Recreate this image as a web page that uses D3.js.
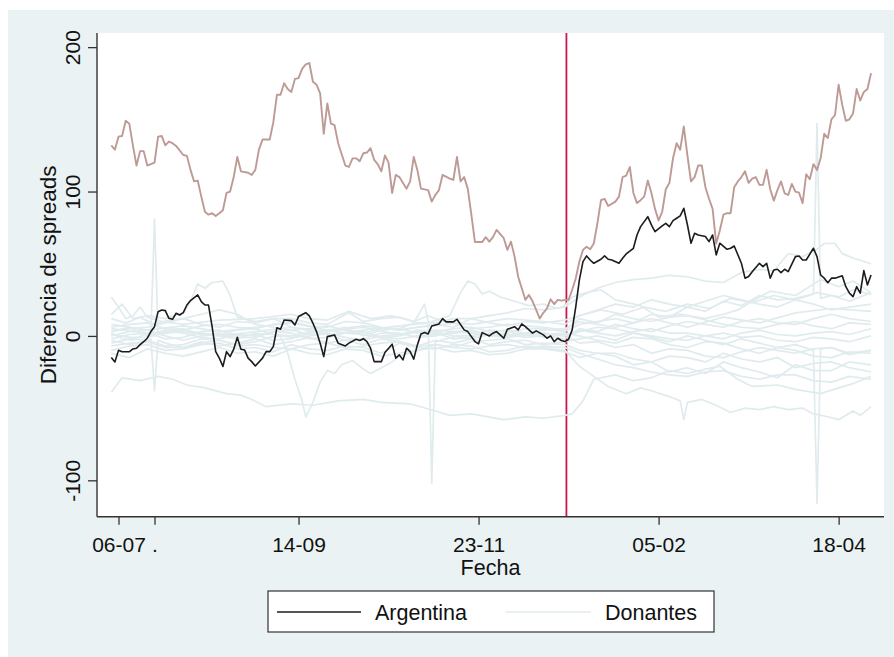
<!DOCTYPE html>
<html>
<head>
<meta charset="utf-8">
<script src="https://cdn.jsdelivr.net/npm/d3@7"></script>
<style>
  html, body { margin: 0; padding: 0; background: #ffffff; }
  svg { display: block; }
  text { font-family: "Liberation Sans", Arial, sans-serif; fill: #111; }
</style>
</head>
<body>
<svg id="chart" width="894" height="657"></svg>
<script>
// ---- Data: [day index, spread difference] --------------------------------

const tickDias = [2, 12, 52, 102, 152, 202];
const tickEtiquetas = ["06-07", ".", "14-09", "23-11", "05-02", "18-04"];
const yTicks = [-100, 0, 100, 200];
const fechaCorte = 126.4;

const argentina = [[0,-15],[1,-18],[2,-10],[3,-11],[5,-11],[6,-9],[7,-8.5],[8,-6],[9,-4],[10,-1.6],[11,3],[12,6.4],[13,16.8],[14,18],[15,17.5],[16,12.2],[17,11.5],[18,15.7],[19,14.5],[20,16.1],[21,21.4],[22,24.5],[24,28.4],[25,23.8],[26,21.4],[27,21.4],[28,6.4],[29,-10.9],[30,-15.4],[31,-21.2],[32,-10.9],[33,-14.3],[34,-9.2],[35,-0.9],[36,-9.2],[37,-9.7],[38,-15.4],[39,-17.8],[40,-20.8],[42,-15.4],[43,-10.9],[44,-10.9],[45,-7.4],[46,5.7],[47,4.6],[48,11],[50,10.6],[51,7.6],[52,13.4],[54,16.1],[55,13.9],[56,8.8],[57,3],[58,-5],[59,-14.3],[60,-0.5],[62,0.7],[63,-5],[65,-6.9],[66,-5],[68,-2.3],[69,-3.2],[70,-1.9],[71,-3.9],[72,-8.5],[73,-17.8],[75,-17.8],[76,-11.5],[78,-5.7],[79,-15.4],[80,-13.1],[81,-16.6],[82,-8.5],[83,-10.9],[84,-16.1],[85,-6.2],[86,1.4],[87,2.3],[88,1.4],[89,6.9],[91,8.3],[92,12],[93,9.7],[95,9.7],[96,11.5],[98,4.2],[99,3],[101,-3.9],[102,-5.5],[103,2.3],[105,0],[106,1.9],[107,3],[108,0.7],[109,-1.6],[110,4.6],[112,6.4],[113,4.2],[114,8.3],[115,6.4],[116,4.2],[117,1.9],[118,3.5],[120,0.7],[121,-1.6],[122,0],[123,-3.9],[124,-1.6],[125,-3.2],[126,-3.9],[127,-2.3],[128,4.2],[129,20.3],[130,38.8],[131,51.5],[132,55.4],[133,52.6],[134,50.3],[136,53.1],[137,55.4],[138,53.1],[139,52.6],[141,50.3],[142,53.8],[143,56.8],[145,60.7],[146,69.9],[147,75.7],[149,82.6],[150,76.9],[151,72.2],[153,76.2],[154,78],[155,75.7],[156,79.8],[157,81.5],[158,83.1],[159,88.4],[160,77],[161,64.2],[162,71.1],[163,69.9],[165,68.8],[166,65.3],[167,69.9],[168,56.1],[169,64.2],[171,60],[172,60.7],[173,62.3],[175,50.3],[176,40],[177,41.1],[178,44.5],[180,50.3],[181,48],[182,50.3],[183,40],[184,45.7],[185,46.2],[186,43.8],[187,46.2],[188,44.5],[190,54.9],[191,55.4],[192,52.6],[193,52.6],[195,60.7],[196,54.9],[197,42.2],[198,40],[199,36.9],[200,40],[201,40],[203,41.6],[204,34.1],[205,29.6],[206,27.2],[207,34.1],[208,29.6],[209,45.2],[210,35.3],[211,42.2]];

const serieRosa = [[0,132],[1,129],[2,138],[3,138.5],[4,149],[5,147],[6,132],[7,118],[8,128],[9,128],[10,118],[12,120],[13,138],[14,138.5],[15,132],[16,134.6],[17,133.5],[18,131.6],[20,125.3],[21,124.7],[22,115],[23,107],[24,107.6],[25,96.5],[26,86],[27,84],[28,85],[29,83],[30,85],[31,87],[32,99],[33,100],[34,110],[35,124],[36,114],[38,113],[39,111.5],[40,115],[41,129],[42,136],[44,136],[45,148],[46,167],[47,167],[48,175],[49,171],[50,169],[51,178],[52,178.5],[53,185],[54,188],[55,189],[56,176],[57,174],[58,168],[59,140],[60,161],[61,147],[62,146],[63,133.5],[65,118],[66,117],[67,123],[68,123],[69,121],[70,126.5],[71,127],[72,130],[73,122],[74,119],[75,114],[76,125],[77,120],[78,99],[79,111.5],[80,110],[82,102],[83,107],[84,124],[85,115],[86,102],[88,101],[89,93],[90,97.6],[91,101],[92,111.5],[94,109],[95,108],[96,124],[97,107],[98,110],[99,102],[100,84],[101,65],[103,65],[104,68.4],[105,65.3],[106,68.4],[107,73.4],[109,67.7],[110,59.6],[111,65.3],[112,55],[113,41],[114,33],[115,25],[116,28.4],[117,24],[118,18],[119,12],[120,16],[121,19],[122,25.4],[123,22],[124,25],[125,24.4],[126,25],[127,25],[128,32],[129,40],[130,51.5],[131,59.6],[132,61.8],[133,60],[134,64],[135,78],[136,94],[137,95],[138,90],[140,93],[141,96.5],[142,110],[143,111],[144,117],[145,99],[146,92],[147,94],[148,96.5],[149,107.6],[150,99],[151,88],[152,80],[153,86],[154,101.6],[155,106],[156,123],[157,133.5],[158,129],[159,145],[160,125],[161,107],[162,110],[163,118],[164,118],[165,103],[166,95],[167,88],[168,64],[169,73],[170,84],[171,85],[172,85],[173,103],[174,107],[175,110],[176,114],[177,106],[178,109],[179,110],[180,104.6],[181,104.6],[182,115],[183,101.6],[184,93.7],[185,101],[186,107],[187,98.8],[188,97.6],[189,105.3],[190,100],[191,99.2],[192,92],[193,112],[194,108.5],[195,119],[196,115],[197,123],[198,140],[199,137],[200,150],[201,153],[202,174],[203,160],[204,149],[205,150],[206,154],[207,171],[208,163],[209,169],[210,171],[211,182]];

// Donor series
const donante01 = [[0,8],[10,4],[20,7],[30,3],[40,6],[50,9],[60,4],[70,7],[80,4],[90,8],[95,6],[100,12],[105,14],[110,16],[115,19],[120,18],[126,20],[130,27],[135,33],[140,37],[145,39],[150,40],[155,42],[160,41],[165,38],[170,37],[175,44],[180,46],[184,45],[188,57],[192,55],[196,60],[198,64],[201,64],[203,57],[206,54],[211,50]];
const donante02 = [[0,15],[3,22],[6,12],[10,14],[15,12],[20,16],[22,24],[24,36],[26,33],[28,37],[31,38],[33,28],[35,13],[40,10],[45,12],[50,6],[60,3],[70,6],[80,1],[90,4],[100,2],[110,0],[120,4],[126,5],[130,10],[140,6],[150,12],[160,6],[170,13],[180,9],[190,16],[200,19],[211,17]];
const donante03 = [[0,27],[2,20],[4,12],[6,14],[8,20],[10,13],[14,10],[20,8],[30,11],[40,12],[50,15],[55,12],[60,11],[66,17],[72,12],[78,14],[84,10],[88,14],[92,10],[100,8],[110,12],[120,10],[126,8],[130,14],[136,18],[142,15],[148,20],[154,17],[160,22],[166,19],[172,26],[178,23],[184,28],[190,25],[196,30],[202,27],[206,32],[211,29]];
const donante04 = [[0,5],[10,2],[20,4],[30,0],[40,3],[50,6],[60,1],[70,4],[80,7],[88,9],[94,14],[97,30],[99,38],[101,36],[103,29],[105,31],[108,27],[112,24],[116,21],[120,22],[124,19],[126,21],[128,27],[132,30],[136,32],[140,25],[147,21],[152,13],[158,15],[165,12],[170,15],[174,18],[178,24],[183,31],[190,28],[197,39],[202,34],[206,38],[211,30]];
const donante05 = [[0,-39],[3,-29],[8,-31],[13,-28],[17,-30],[21,-34],[26,-36],[32,-40],[36,-41],[39,-44],[43,-49],[50,-47],[56,-48],[63,-45],[70,-44],[75,-46],[83,-47],[90,-52],[94,-55],[100,-54],[109,-58],[115,-56],[120,-57],[126,-55],[128,-54],[131,-45],[134,-30],[140,-27],[145,-31],[150,-29],[155,-24],[160,-26],[165,-23],[169,-21],[174,-30],[178,-35],[185,-34],[190,-37],[197,-40],[202,-36],[206,-33],[211,-28]];
const donante06 = [[0,-10],[5,-7],[10,-6],[15,-10],[20,-9],[25,-6],[30,-5],[35,-9],[40,-8],[45,-11],[50,-6],[55,-9],[60,-10],[65,-7],[70,-8],[75,-12],[80,-5],[85,-8],[90,-9],[95,-6],[100,-7],[105,-11],[110,-10],[115,-7],[120,-8],[126,-10],[130,-21],[134,-28],[138,-35],[143,-40],[147,-36],[150,-38],[155,-42],[158,-45],[159,-58],[160,-46],[164,-44],[168,-48],[172,-53],[176,-50],[180,-51],[184,-49],[188,-51],[192,-50],[195,-54],[199,-56],[202,-58],[206,-52],[208,-55],[211,-49]];
const donante07 = [[0,-5],[5,-2],[10,-3],[15,-7],[20,-6],[25,-2],[30,-3],[35,-6],[40,-4],[44,-1],[47,0],[49,-12],[51,-30],[53,-45],[54,-56],[56,-46],[58,-32],[60,-24],[62,-26],[64,-20],[67,-17],[70,-23],[72,-26],[75,-22],[78,-18],[80,-14],[85,-10],[90,-6],[95,-8],[100,-4],[105,-3],[110,-2],[115,-6],[120,-5],[126,-6],[130,-10],[135,-12],[140,-14],[145,-20],[150,-18],[155,-25],[160,-22],[165,-26],[170,-18],[175,-22],[180,-25],[185,-29],[190,-20],[195,-24],[200,-24],[205,-18],[211,-20]];
const donante08 = [[0,2],[3,-2],[6,-3],[9,1],[11,2],[12,81],[13,1],[17,3],[20,2],[25,-1],[30,-2],[35,1],[40,0],[45,3],[50,2],[55,-2],[60,-1],[65,2],[70,3],[75,-1],[80,0],[85,3],[90,2],[95,-2],[100,-1],[105,2],[110,1],[115,-1],[120,0],[126,-2],[130,5],[135,3],[140,8],[145,5],[150,3],[155,7],[160,10],[165,8],[170,6],[175,10],[180,12],[185,9],[190,8],[195,12],[200,15],[205,12],[211,10]];
const donante09 = [[0,-2],[5,1],[10,2],[15,-2],[20,-1],[25,3],[30,4],[35,0],[40,1],[45,-3],[50,-2],[55,2],[60,3],[65,6],[70,0],[75,4],[80,5],[84,9],[87,22],[88,10],[89,-102],[90,-4],[93,-2],[96,0],[100,0],[105,4],[110,3],[115,0],[120,1],[126,2],[130,0],[135,-3],[140,-5],[145,-1],[150,-2],[155,-6],[160,-8],[165,-4],[170,-5],[175,-9],[180,-12],[185,-8],[190,-10],[195,-14],[200,-15],[205,-11],[211,-12]];
const donante10 = [[0,3],[5,6],[10,0],[15,4],[20,5],[25,1],[30,2],[35,-1],[40,-1],[45,3],[50,4],[55,1],[60,1],[65,-3],[70,-2],[75,2],[80,2],[85,-1],[90,0],[95,3],[100,4],[105,1],[110,2],[115,5],[120,5],[126,3],[130,8],[135,10],[140,12],[145,9],[150,15],[155,13],[160,20],[165,17],[170,24],[175,21],[180,28],[185,25],[190,26],[195,29],[196,147],[197,26],[200,28],[205,24],[211,30]];
const donante11 = [[0,-3],[5,-6],[10,-4],[11,-2],[12,-38],[13,-3],[15,-5],[20,-8],[25,-4],[30,-7],[35,-5],[40,-2],[45,-6],[50,-4],[55,-1],[60,-5],[65,-3],[70,-6],[75,-2],[80,-4],[85,-7],[90,-3],[95,-5],[100,-2],[105,-6],[110,-4],[115,-3],[120,-6],[126,-4],[130,-2],[135,0],[140,-3],[145,2],[150,-1],[155,-4],[160,0],[165,-3],[170,-6],[175,-2],[180,-5],[185,-8],[190,-6],[195,-10],[196,-116],[197,-9],[200,-8],[205,-12],[211,-10]];
const donante12 = [[0,12],[4,9],[8,13],[12,8],[16,11],[20,12],[25,8],[30,6],[35,10],[40,9],[45,12],[50,12],[55,9],[60,8],[63,12],[66,16],[70,10],[75,12],[80,13],[85,9],[90,9],[95,12],[100,12],[105,9],[110,7],[115,10],[120,9],[126,11],[130,14],[135,18],[140,22],[145,20],[150,25],[155,22],[160,20],[165,24],[170,28],[175,25],[180,22],[185,20],[190,25],[195,22],[200,18],[205,20],[211,22]];
const donante13 = [[0,-12],[5,-15],[10,-9],[15,-12],[20,-14],[25,-11],[30,-8],[35,-12],[40,-11],[45,-14],[50,-9],[55,-12],[60,-13],[65,-9],[70,-10],[75,-14],[80,-12],[85,-10],[90,-8],[95,-11],[100,-10],[105,-13],[110,-12],[115,-9],[120,-9],[126,-11],[130,-15],[135,-12],[140,-12],[145,-16],[150,-18],[155,-14],[160,-15],[165,-18],[170,-12],[175,-16],[180,-18],[185,-15],[190,-22],[195,-19],[200,-18],[205,-22],[211,-25]];
const donante14 = [[0,0],[5,3],[10,4],[15,0],[20,-3],[25,0],[30,1],[35,4],[40,5],[45,1],[50,-1],[55,0],[60,2],[65,-1],[70,-3],[75,0],[80,1],[85,4],[90,3],[95,0],[100,-2],[105,1],[110,0],[115,2],[120,-1],[126,1],[130,-5],[135,-4],[140,-8],[145,-6],[150,-12],[155,-9],[160,-10],[165,-14],[170,-15],[175,-11],[180,-8],[185,-10],[190,-12],[195,-9],[200,-8],[205,-13],[211,-10]];
const donante15 = [[0,3],[5,5],[10,6],[15,9],[20,12],[25,15],[30,18],[35,15],[40,8],[45,6],[50,4],[55,5],[60,7],[65,4],[70,2],[75,5],[80,5],[85,2],[90,3],[95,5],[100,6],[105,3],[110,4],[115,2],[120,2],[126,0],[130,4],[135,2],[140,0],[145,3],[150,5],[155,2],[160,2],[165,0],[170,-2],[175,2],[180,4],[185,1],[190,0],[195,2],[200,3],[205,1],[211,5]];
const donante16 = [[0,-7],[5,-5],[10,-4],[15,-8],[20,-8],[25,-5],[30,-3],[35,-7],[40,-6],[45,-8],[50,-9],[55,-6],[60,-5],[65,-8],[70,-7],[75,-5],[80,-4],[85,-7],[90,-6],[95,-8],[100,-9],[105,-7],[110,-6],[115,-8],[120,-7],[126,-8],[130,-12],[135,-16],[140,-20],[145,-22],[150,-25],[155,-27],[160,-28],[165,-25],[170,-24],[175,-28],[180,-30],[185,-27],[190,-27],[195,-31],[200,-32],[205,-28],[211,-30]];
const donante17 = [[0,1],[5,-1],[10,-1],[15,2],[20,3],[25,1],[30,0],[35,-2],[40,2],[45,1],[50,0],[55,3],[60,4],[65,2],[70,1],[75,-1],[80,-2],[85,0],[90,1],[95,2],[100,3],[105,0],[110,-1],[115,1],[120,2],[126,0],[130,3],[135,6],[140,5],[145,2],[150,0],[155,-2],[160,-3],[165,0],[170,2],[175,-1],[180,0],[185,-3],[190,-4],[195,-1],[200,-2],[205,-4],[211,0]];
const donante18 = [[0,6],[5,8],[10,9],[15,5],[20,4],[25,7],[30,8],[35,6],[40,5],[45,8],[50,10],[55,7],[60,6],[65,10],[70,9],[75,6],[80,4],[85,6],[90,7],[95,9],[100,5],[105,6],[110,8],[115,7],[120,6],[126,4],[130,12],[135,9],[140,15],[145,12],[150,10],[155,13],[160,14],[165,11],[170,8],[175,6],[180,5],[185,8],[190,10],[195,7],[200,5],[205,9],[211,8]];

const donantes = [donante01, donante02, donante03, donante04, donante05, donante06,
  donante07, donante08, donante09, donante10, donante11, donante12,
  donante13, donante14, donante15, donante16, donante17, donante18];

// ---- Layout -------------------------------------------------------------
const COL = {
  panel: "#EAF2F3",
  argentina: "#1c1c1c",
  rosa: "#BE9A95",
  donante: "#E0EBEE",
  corte: "#C8194A",
  eje: "#333333"
};
const plot = { left: 97, right: 884, top: 33, bottom: 516.7 };

const svg = d3.select("#chart");

// outer panel and plot region
svg.append("rect").attr("x", 8).attr("y", 10).attr("width", 886).attr("height", 647)
  .attr("fill", COL.panel);
svg.append("rect").attr("x", plot.left).attr("y", plot.top)
  .attr("width", plot.right - plot.left).attr("height", plot.bottom - plot.top)
  .attr("fill", "#ffffff");

const x = d3.scaleLinear().domain([-3.97, 214.6]).range([plot.left, plot.right]);
const y = d3.scaleLinear().domain([-125.2, 209.8]).range([plot.bottom, plot.top]);

const line = d3.line().x(d => x(d[0])).y(d => y(d[1]));

// cut-off date
svg.append("line")
  .attr("x1", x(fechaCorte)).attr("x2", x(fechaCorte))
  .attr("y1", plot.top).attr("y2", plot.bottom)
  .attr("stroke", COL.corte).attr("stroke-width", 1.8);

// donors
svg.append("g").selectAll("path").data(donantes).join("path")
  .attr("d", line)
  .attr("fill", "none")
  .attr("stroke", COL.donante)
  .attr("stroke-width", 1.7)
  .attr("stroke-linejoin", "round");

// second series
svg.append("path").datum(serieRosa)
  .attr("d", line).attr("fill", "none")
  .attr("stroke", COL.rosa).attr("stroke-width", 1.9)
  .attr("stroke-linejoin", "round");

// Argentina
svg.append("path").datum(argentina)
  .attr("d", line).attr("fill", "none")
  .attr("stroke", COL.argentina).attr("stroke-width", 1.6)
  .attr("stroke-linejoin", "round");

// ---- Axes ---------------------------------------------------------------
const yAxis = svg.append("g")
  .attr("transform", `translate(${plot.left},0)`)
  .call(d3.axisLeft(y).tickValues(yTicks).tickFormat(d => String(d))
    .tickSize(9).tickSizeOuter(0));
yAxis.select(".domain").attr("stroke", COL.eje).attr("stroke-width", 1.4)
  .attr("d", `M0,${plot.top}V${plot.bottom}`);
yAxis.selectAll(".tick line").attr("stroke", COL.eje).attr("stroke-width", 1.3);
yAxis.selectAll(".tick text")
  .attr("x", null).attr("dy", null)
  .attr("text-anchor", "middle")
  .attr("transform", "translate(-17,0) rotate(-90)")
  .style("font-size", "21px")
  .attr("fill", "#111");

const xAxis = svg.append("g")
  .attr("transform", `translate(0,${plot.bottom})`)
  .call(d3.axisBottom(x).tickValues(tickDias)
    .tickFormat((d, i) => tickEtiquetas[i])
    .tickSize(8).tickSizeOuter(0));
xAxis.select(".domain").attr("stroke", COL.eje).attr("stroke-width", 1.4)
  .attr("d", `M${plot.left},0H${plot.right}`);
xAxis.selectAll(".tick line").attr("stroke", COL.eje).attr("stroke-width", 1.3);
xAxis.selectAll(".tick text")
  .attr("y", 35).attr("dy", null)
  .style("font-size", "21px")
  .attr("fill", "#111");

// axis titles
svg.append("text")
  .attr("transform", `translate(56,${(plot.top + plot.bottom) / 2}) rotate(-90)`)
  .attr("text-anchor", "middle")
  .style("font-size", "22.5px")
  .text("Diferencia de spreads");

svg.append("text")
  .attr("x", (plot.left + plot.right) / 2).attr("y", 574.5)
  .attr("text-anchor", "middle")
  .style("font-size", "21.5px")
  .text("Fecha");

// ---- Legend -------------------------------------------------------------
const leyenda = [
  { nombre: "Argentina", color: COL.argentina, x0: 277, x1: 361, tx: 375 },
  { nombre: "Donantes", color: COL.donante, x0: 506, x1: 591, tx: 605 }
];
const lg = svg.append("g");
lg.append("rect").attr("x", 268).attr("y", 591).attr("width", 446).attr("height", 41)
  .attr("fill", "#ffffff").attr("stroke", COL.eje).attr("stroke-width", 1.2);
const items = lg.selectAll("g.item").data(leyenda).join("g").attr("class", "item");
items.append("line")
  .attr("x1", d => d.x0).attr("x2", d => d.x1)
  .attr("y1", 612).attr("y2", 612)
  .attr("stroke", d => d.color).attr("stroke-width", 1.6);
items.append("text")
  .attr("x", d => d.tx).attr("y", 619.5)
  .style("font-size", "21.5px")
  .text(d => d.nombre);
</script>
</body>
</html>
